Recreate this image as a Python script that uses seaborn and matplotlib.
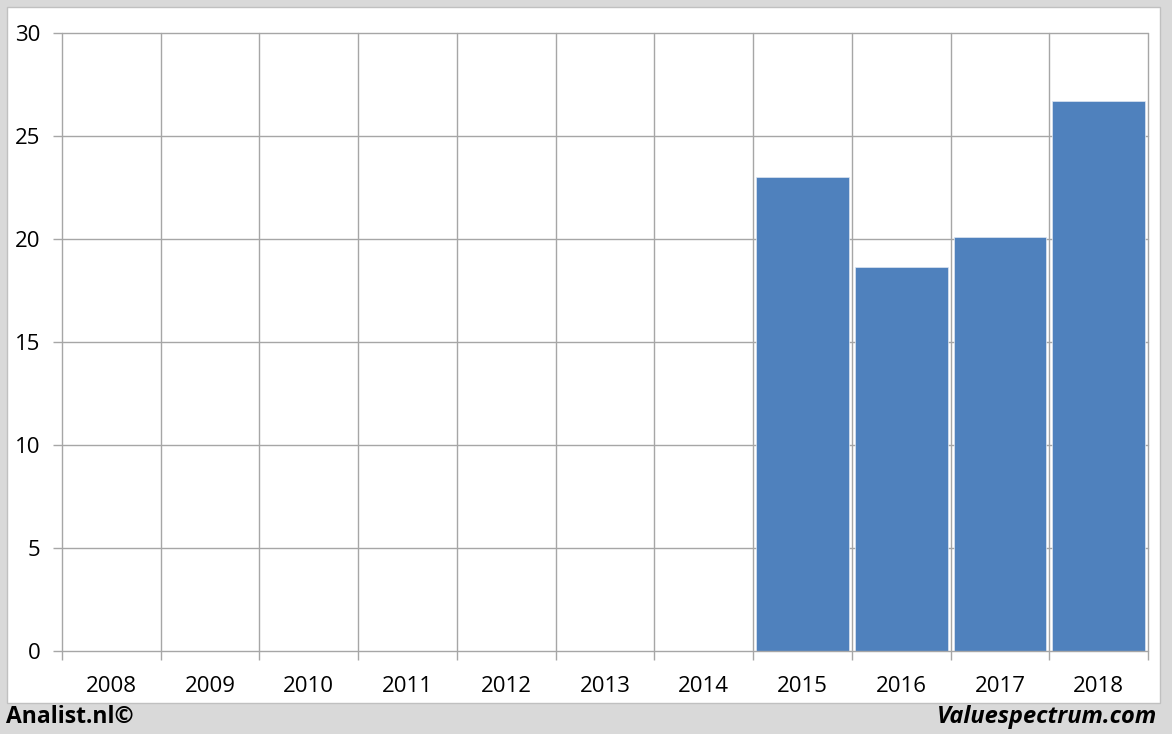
import numpy as np
import pandas as pd
import matplotlib.pyplot as plt
import matplotlib.patches as mpatches
import seaborn as sns

# data
years = ["2008", "2009", "2010", "2011", "2012", "2013", "2014",
         "2015", "2016", "2017", "2018"]
values = [np.nan, np.nan, np.nan, np.nan, np.nan, np.nan, np.nan,
          23.0, 18.65, 20.1, 26.7]
yticks = [0, 5, 10, 15, 20, 25, 30]

df = pd.DataFrame({"year": years, "value": values})

sns.set_theme(style="white")
plt.rcParams["font.family"] = ["Open Sans", "DejaVu Sans"]

W, H = 1172, 734
fig = plt.figure(figsize=(W / 100, H / 100), dpi=100, facecolor="#d9d9d9")

# white panel behind the plot
panel = mpatches.Rectangle((7 / W, (H - 703) / H), 1153 / W, 696 / H,
                           transform=fig.transFigure, facecolor="white",
                           edgecolor="#c0c0c0", linewidth=1, zorder=-10)
fig.patches.append(panel)

ax = fig.add_axes([62 / W, (H - 651) / H, (1148 - 62) / W, 618 / H])
ax.set_facecolor("none")

sns.barplot(data=df, x="year", y="value", color="#4f81bd", saturation=1,
            width=0.94, edgecolor="#dfe7f2", linewidth=0.5, ax=ax, zorder=3)

ax.set_xlim(-0.5, len(years) - 0.5)
ax.set_ylim(yticks[0], yticks[-1])
ax.set_yticks(yticks)
bounds = np.arange(-0.5, len(years), 1)
ax.set_xticks(bounds, minor=True)

# grid lines drawn unclipped so the edge lines show in full
grid_c = "#a6a6a6"
ax.grid(False)
for b in bounds:
    ax.axvline(b, color=grid_c, linewidth=1, zorder=1, clip_on=False)
for t in yticks:
    ax.axhline(t, color=grid_c, linewidth=1, zorder=1 if t else 4,
               clip_on=False)

ax.tick_params(axis="x", which="major", length=0, pad=18, labelsize=16,
               labelcolor="black")
ax.tick_params(axis="x", which="minor", length=6.5, width=1, color=grid_c,
               bottom=True)
ax.tick_params(axis="y", which="major", length=6.5, width=1, color=grid_c,
               pad=9, labelsize=16, left=True, labelcolor="black")

for s in ax.spines.values():
    s.set_visible(False)

ax.set_xlabel("")
ax.set_ylabel("")

fig.text(6 / W, (H - 717) / H, "Analist.nl©", fontsize=16.5, fontweight="bold",
         ha="left", va="center", color="black")
fig.text(1157 / W, (H - 717) / H, "Valuespectrum.com", fontsize=17,
         fontweight="bold", fontstyle="italic", ha="right", va="center",
         color="black")

fig.savefig("out.png", dpi=100, facecolor=fig.get_facecolor())
